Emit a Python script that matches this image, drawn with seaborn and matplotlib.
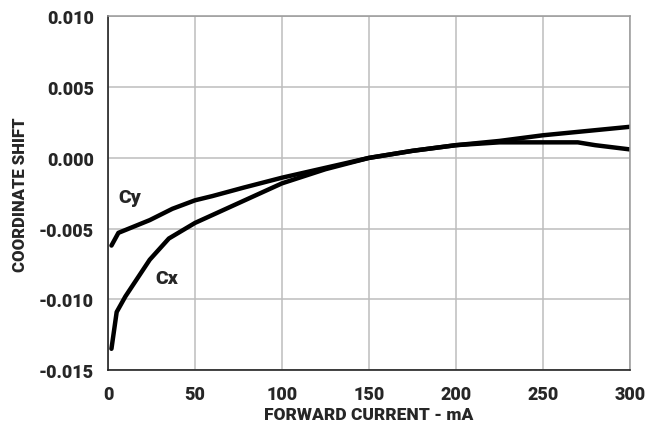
import pandas as pd
import seaborn as sns
import matplotlib.pyplot as plt

# values
cx_current = [2, 5, 10, 24, 35, 50, 75, 100, 125, 150, 175, 200, 225, 250, 270, 280, 300]
cx_shift = [-0.0135, -0.0109, -0.0098, -0.0072, -0.0057, -0.0046, -0.0032, -0.0018,
            -0.0008, 0.0, 0.0005, 0.0009, 0.0011, 0.0011, 0.0011, 0.0009, 0.0006]
cy_current = [2, 6, 10, 24, 37, 50, 60, 78, 100, 125, 150, 175, 200, 225, 250, 275, 300]
cy_shift = [-0.0062, -0.0053, -0.0051, -0.0044, -0.0036, -0.0030, -0.0027, -0.0021, -0.0014,
            -0.0007, 0.0, 0.0005, 0.0009, 0.0012, 0.0016, 0.0019, 0.0022]
x_ticks = [0, 50, 100, 150, 200, 250, 300]
y_ticks = [-0.015, -0.010, -0.005, 0.000, 0.005, 0.010]

df = pd.concat([
    pd.DataFrame({"current": cx_current, "shift": cx_shift, "coord": "Cx"}),
    pd.DataFrame({"current": cy_current, "shift": cy_shift, "coord": "Cy"}),
])

sns.set_style("white")
plt.rcParams["font.family"] = ["Roboto", "DejaVu Sans"]
plt.rcParams["font.weight"] = "black"

fig = plt.figure(figsize=(6.45, 4.31), dpi=100)
ax = fig.add_axes([0.1674, 0.1392, 0.8093, 0.8202])

sns.lineplot(data=df, x="current", y="shift", hue="coord", palette=["black", "black"],
             linewidth=3.2, legend=False, ax=ax, sort=False)

ax.set_xlim(0, 300)
ax.set_ylim(-0.015, 0.010)
ax.set_xticks(x_ticks)
ax.set_yticks(y_ticks)
ax.set_xticklabels([str(t) for t in x_ticks], fontweight="black")
ax.set_yticklabels([f"{t:.3f}" for t in y_ticks], fontweight="black")
ax.grid(True, color="#bdbdbd", linewidth=1.1)
ax.tick_params(axis="both", labelsize=13, length=5, width=1, color="#555555", direction="out")
ax.tick_params(axis="x", pad=6)
ax.tick_params(axis="y", pad=5)

for side in ["top", "right"]:
    ax.spines[side].set_color("#999999")
    ax.spines[side].set_linewidth(1.1)
for side in ["left", "bottom"]:
    ax.spines[side].set_color("#222222")
    ax.spines[side].set_linewidth(1.2)

ax.set_xlabel("FORWARD CURRENT - mA", fontsize=12.5, fontweight="black", labelpad=2)
ax.set_ylabel("COORDINATE SHIFT", fontsize=12, fontweight="black", labelpad=8)

ax.text(12.7, -0.0028, "Cy", fontsize=14, fontweight="black", ha="center", va="center")
ax.text(34, -0.0085, "Cx", fontsize=14, fontweight="black", ha="center", va="center")

plt.savefig("out.png", dpi=100)
